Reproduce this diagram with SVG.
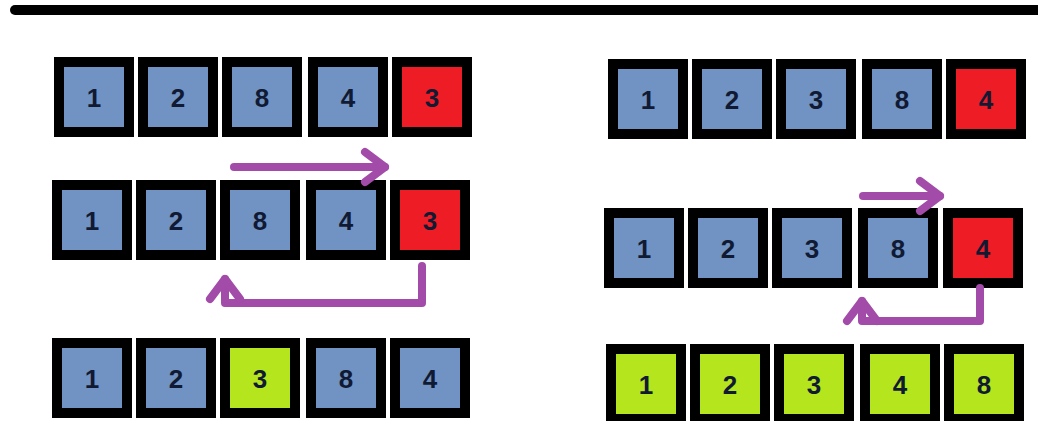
<svg xmlns="http://www.w3.org/2000/svg" width="1038" height="421" viewBox="0 0 1038 421">
<style>
.b rect{stroke:#000;stroke-width:10}
.blue{fill:#7093C3}
.red{fill:#EE1C25}
.green{fill:#B5E51D}
text{font-family:"Liberation Sans",Arial,sans-serif;font-weight:bold;font-size:26px;fill:#101a33;text-anchor:middle}
.arr{fill:none;stroke:#A24BA8;stroke-width:8;stroke-linecap:round;stroke-linejoin:round}
</style>
<defs>
<marker id="head" viewBox="-26 -20 32 40" markerUnits="userSpaceOnUse" markerWidth="32" markerHeight="40" refX="0" refY="0" orient="auto">
<path d="M-20,-15 L0,0 L-20,15" fill="none" stroke="#A24BA8" stroke-width="8" stroke-linecap="round" stroke-linejoin="round"/>
</marker>
</defs>
<rect width="1038" height="421" fill="#fff"/>
<line x1="15" y1="10" x2="1045" y2="10" stroke="#000" stroke-width="10" stroke-linecap="round"/>

<g id="L1-1" class="b"><rect class="blue" x="59" y="62" width="70" height="70"/><text x="94" y="107">1</text></g>
<g id="L1-2" class="b"><rect class="blue" x="143" y="62" width="70" height="70"/><text x="178" y="107">2</text></g>
<g id="L1-3" class="b"><rect class="blue" x="227" y="62" width="70" height="70"/><text x="262" y="107">8</text></g>
<g id="L1-4" class="b"><rect class="blue" x="313" y="62" width="70" height="70"/><text x="348" y="107">4</text></g>
<g id="L1-5" class="b"><rect class="red" x="397" y="62" width="70" height="70"/><text x="432" y="107">3</text></g>

<g id="L2-1" class="b"><rect class="blue" x="57" y="185" width="70" height="70"/><text x="92" y="230">1</text></g>
<g id="L2-2" class="b"><rect class="blue" x="141" y="185" width="70" height="70"/><text x="176" y="230">2</text></g>
<g id="L2-3" class="b"><rect class="blue" x="225" y="185" width="70" height="70"/><text x="260" y="230">8</text></g>
<g id="L2-4" class="b"><rect class="blue" x="311" y="185" width="70" height="70"/><text x="346" y="230">4</text></g>
<g id="L2-5" class="b"><rect class="red" x="395" y="185" width="70" height="70"/><text x="430" y="230">3</text></g>

<g id="L3-1" class="b"><rect class="blue" x="57" y="343" width="70" height="70"/><text x="92" y="388">1</text></g>
<g id="L3-2" class="b"><rect class="blue" x="141" y="343" width="70" height="70"/><text x="176" y="388">2</text></g>
<g id="L3-3" class="b"><rect class="green" x="225" y="343" width="70" height="70"/><text x="260" y="388">3</text></g>
<g id="L3-4" class="b"><rect class="blue" x="311" y="343" width="70" height="70"/><text x="346" y="388">8</text></g>
<g id="L3-5" class="b"><rect class="blue" x="395" y="343" width="70" height="70"/><text x="430" y="388">4</text></g>

<g id="R1-1" class="b"><rect class="blue" x="613" y="64" width="70" height="70"/><text x="648" y="109">1</text></g>
<g id="R1-2" class="b"><rect class="blue" x="697" y="64" width="70" height="70"/><text x="732" y="109">2</text></g>
<g id="R1-3" class="b"><rect class="blue" x="781" y="64" width="70" height="70"/><text x="816" y="109">3</text></g>
<g id="R1-4" class="b"><rect class="blue" x="867" y="64" width="70" height="70"/><text x="902" y="109">8</text></g>
<g id="R1-5" class="b"><rect class="red" x="951" y="64" width="70" height="70"/><text x="986" y="109">4</text></g>

<g id="R2-1" class="b"><rect class="blue" x="609" y="213" width="70" height="70"/><text x="644" y="258">1</text></g>
<g id="R2-2" class="b"><rect class="blue" x="693" y="213" width="70" height="70"/><text x="728" y="258">2</text></g>
<g id="R2-3" class="b"><rect class="blue" x="777" y="213" width="70" height="70"/><text x="812" y="258">3</text></g>
<g id="R2-4" class="b"><rect class="blue" x="863" y="213" width="70" height="70"/><text x="898" y="258">8</text></g>
<g id="R2-5" class="b"><rect class="red" x="948" y="213" width="70" height="70"/><text x="983" y="258">4</text></g>

<g id="R3-1" class="b"><rect class="green" x="611" y="349" width="70" height="70"/><text x="646" y="394">1</text></g>
<g id="R3-2" class="b"><rect class="green" x="695" y="349" width="70" height="70"/><text x="730" y="394">2</text></g>
<g id="R3-3" class="b"><rect class="green" x="779" y="349" width="70" height="70"/><text x="814" y="394">3</text></g>
<g id="R3-4" class="b"><rect class="green" x="865" y="349" width="70" height="70"/><text x="900" y="394">4</text></g>
<g id="R3-5" class="b"><rect class="green" x="949" y="349" width="70" height="70"/><text x="984" y="394">8</text></g>

<g id="connectors">
<path class="arr" d="M234,167 H385" marker-end="url(#head)"/>
<path class="arr" d="M422,266 V303 H225 V279" marker-end="url(#head)"/>
<path class="arr" d="M863,196 H940" marker-end="url(#head)"/>
<path class="arr" d="M980,288 V321 H862 V301" marker-end="url(#head)"/>
</g>
</svg>
